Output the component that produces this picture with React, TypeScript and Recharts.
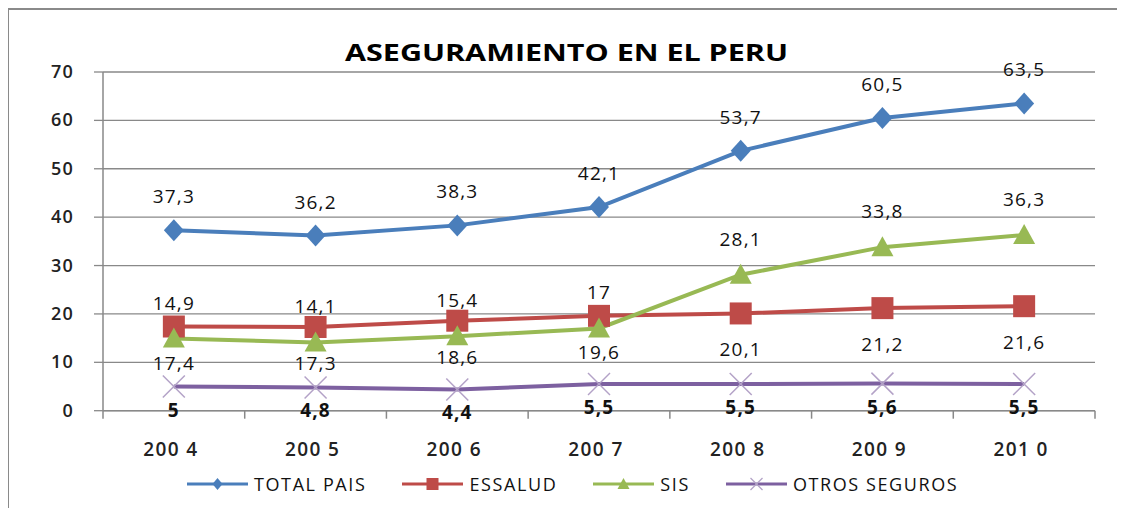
import React from 'react';
import { LineChart, Line, XAxis, YAxis, CartesianGrid, Legend, LabelList } from 'recharts';

const years = ['200 4', '200 5', '200 6', '200 7', '200 8', '200 9', '201 0'];
const totalPais = [37.3, 36.2, 38.3, 42.1, 53.7, 60.5, 63.5];
const essalud = [17.4, 17.3, 18.6, 19.6, 20.1, 21.2, 21.6];
const sis = [14.9, 14.1, 15.4, 17, 28.1, 33.8, 36.3];
const otros = [5, 4.8, 4.4, 5.5, 5.5, 5.6, 5.5];
const yTicks = [0, 10, 20, 30, 40, 50, 60, 70];
const seriesNames = ['TOTAL PAIS', 'ESSALUD', 'SIS', 'OTROS SEGUROS'];
const titleText = 'ASEGURAMIENTO EN EL PERU';

const data = years.map((y, i) => ({
  year: y,
  total: totalPais[i],
  essalud: essalud[i],
  sis: sis[i],
  otros: otros[i],
}));

const BLUE = '#4A7EBB';
const RED = '#BE4B48';
const GREEN = '#98B954';
const PURPLE = '#7D60A0';
const LPURPLE = '#B3A2C7';
const GRID = '#898989';
const FONT = '"Open Sans", sans-serif';

const CHART_W = 1110;
const CHART_H = 498;
const PLOT_L = 94;
const PLOT_R = 1086;
const HALF_BAND = (PLOT_R - PLOT_L) / years.length / 2;

const fmt = (v: any) => String(v).replace('.', ',');

const Diamond = (p: any) => {
  const { cx, cy } = p;
  if (cx == null || cy == null) return null;
  return <polygon points={`${cx},${cy - 11} ${cx + 10},${cy} ${cx},${cy + 11} ${cx - 10},${cy}`} fill={BLUE} />;
};
const Square = (p: any) => {
  const { cx, cy } = p;
  if (cx == null || cy == null) return null;
  return <rect x={cx - 11} y={cy - 11} width={22} height={22} fill={RED} />;
};
const Triangle = (p: any) => {
  const { cx, cy } = p;
  if (cx == null || cy == null) return null;
  return <polygon points={`${cx},${cy - 11} ${cx + 11},${cy + 9} ${cx - 11},${cy + 9}`} fill={GREEN} />;
};
const Cross = (p: any) => {
  const { cx, cy } = p;
  if (cx == null || cy == null) return null;
  return (
    <g stroke={LPURPLE} strokeWidth={1.5}>
      <line x1={cx - 11} y1={cy - 11} x2={cx + 11} y2={cy + 11} />
      <line x1={cx - 11} y1={cy + 11} x2={cx + 11} y2={cy - 11} />
    </g>
  );
};

const makeLabel = (dy: number, bold: boolean) => (p: any) => {
  const { x, y, value } = p;
  if (x == null || y == null) return null;
  return (
    <text x={x} y={y + dy} textAnchor="middle" fontFamily={FONT} fontSize={19} fontWeight={bold ? 700 : 400} letterSpacing={1.2} fill="#111">
      {fmt(value)}
    </text>
  );
};

const XTick = (p: any) => {
  const { x, y, payload, index } = p;
  return (
    <g>
      <line x1={x - HALF_BAND} y1={y - 8} x2={x - HALF_BAND} y2={y} stroke={GRID} strokeWidth={1.5} />
      {index === years.length - 1 && (
        <line x1={x + HALF_BAND} y1={y - 8} x2={x + HALF_BAND} y2={y} stroke={GRID} strokeWidth={1.5} />
      )}
      <text x={x - 3} y={y + 37} textAnchor="middle" fontFamily={FONT} fontSize={19} fontWeight={600} letterSpacing={1.4} fill="#222">
        {payload.value}
      </text>
    </g>
  );
};

const YTick = (p: any) => {
  const { x, y, payload } = p;
  return (
    <text x={x} y={y + 6} textAnchor="end" fontFamily={FONT} fontSize={18} fontWeight={600} letterSpacing={1.2} fill="#222">
      {payload.value}
    </text>
  );
};

const legendMarkers = [
  (cx: number, cy: number) => <polygon points={`${cx},${cy - 6} ${cx + 5},${cy} ${cx},${cy + 6} ${cx - 5},${cy}`} fill={BLUE} />,
  (cx: number, cy: number) => <rect x={cx - 6} y={cy - 6} width={12} height={12} fill={RED} />,
  (cx: number, cy: number) => <polygon points={`${cx},${cy - 6} ${cx + 6},${cy + 5} ${cx - 6},${cy + 5}`} fill={GREEN} />,
  (cx: number, cy: number) => (
    <g stroke={LPURPLE} strokeWidth={1.2}>
      <line x1={cx - 6} y1={cy - 6} x2={cx + 6} y2={cy + 6} />
      <line x1={cx - 6} y1={cy + 6} x2={cx + 6} y2={cy - 6} />
    </g>
  ),
];
const legendColors = [BLUE, RED, GREEN, PURPLE];

const LegendContent = () => (
  <div style={{ display: 'flex', alignItems: 'center', whiteSpace: 'nowrap' }}>
    {seriesNames.map((n, i) => (
      <div key={n} style={{ display: 'flex', alignItems: 'center', marginRight: 36 }}>
        <svg width={61} height={20} style={{ display: 'block' }}>
          <line x1={0} y1={10} x2={61} y2={10} stroke={legendColors[i]} strokeWidth={3} />
          {legendMarkers[i](30.5, 10)}
        </svg>
        <span style={{ marginLeft: 6, fontFamily: FONT, fontSize: 18, letterSpacing: 1.6, color: '#111', lineHeight: '24px' }}>{n}</span>
      </div>
    ))}
  </div>
);

export default function App() {
  return (
    <div
      style={{
        position: 'relative',
        width: 1117,
        height: 500,
        overflow: 'hidden',
        borderTop: '2px solid #8a8a8a',
        borderLeft: '2px solid #8a8a8a',
        boxSizing: 'border-box',
        marginLeft: -1,
        background: '#fff',
      }}
    >
      <style>{'svg:focus, svg:focus-visible, .recharts-wrapper:focus, .recharts-surface:focus { outline: none !important; }'}</style>
      <svg width={1100} height={70} style={{ position: 'absolute', top: 0, left: 0 }}>
        <text
          x={557.5}
          y={50.5}
          textAnchor="middle"
          fontFamily={FONT}
          fontWeight={700}
          fontSize={24}
          textLength={443}
          lengthAdjust="spacingAndGlyphs"
          fill="#000"
        >
          {titleText}
        </text>
      </svg>
      <LineChart
        width={CHART_W}
        height={CHART_H}
        data={data}
        accessibilityLayer={false}
        style={{ outline: 'none' }}
        margin={{ top: 62, right: CHART_W - PLOT_R, left: 0, bottom: CHART_H - 400.7 - 60 }}
      >
        <CartesianGrid vertical={false} stroke={GRID} strokeWidth={1.3} />
        <XAxis
          dataKey="year"
          height={60}
          padding={{ left: HALF_BAND, right: HALF_BAND }}
          axisLine={{ stroke: GRID, strokeWidth: 1.5 }}
          tickLine={false}
          tickSize={8}
          tickMargin={0}
          tick={<XTick />}
          interval={0}
        />
        <YAxis
          domain={[0, 70]}
          ticks={yTicks}
          width={PLOT_L}
          axisLine={{ stroke: GRID, strokeWidth: 1.5 }}
          tickLine={{ stroke: GRID, strokeWidth: 1.3 }}
          tickSize={9}
          tickMargin={20}
          tick={<YTick />}
          interval={0}
        />
        <Legend
          layout="horizontal"
          verticalAlign="middle"
          align="center"
          content={<LegendContent />}
          wrapperStyle={{ top: 462, left: 178, width: 'auto', height: 24 }}
        />
        <Line dataKey="total" name={seriesNames[0]} stroke={BLUE} strokeWidth={4} dot={<Diamond />} activeDot={false} isAnimationActive={false}>
          <LabelList dataKey="total" content={makeLabel(-27, false)} />
        </Line>
        <Line dataKey="essalud" name={seriesNames[1]} stroke={RED} strokeWidth={4} dot={<Square />} activeDot={false} isAnimationActive={false}>
          <LabelList dataKey="essalud" content={makeLabel(43, false)} />
        </Line>
        <Line dataKey="sis" name={seriesNames[2]} stroke={GREEN} strokeWidth={4} dot={<Triangle />} activeDot={false} isAnimationActive={false}>
          <LabelList dataKey="sis" content={makeLabel(-29, false)} />
        </Line>
        <Line dataKey="otros" name={seriesNames[3]} stroke={PURPLE} strokeWidth={4} dot={<Cross />} activeDot={false} isAnimationActive={false}>
          <LabelList dataKey="otros" content={makeLabel(30, true)} />
        </Line>
      </LineChart>
    </div>
  );
}
